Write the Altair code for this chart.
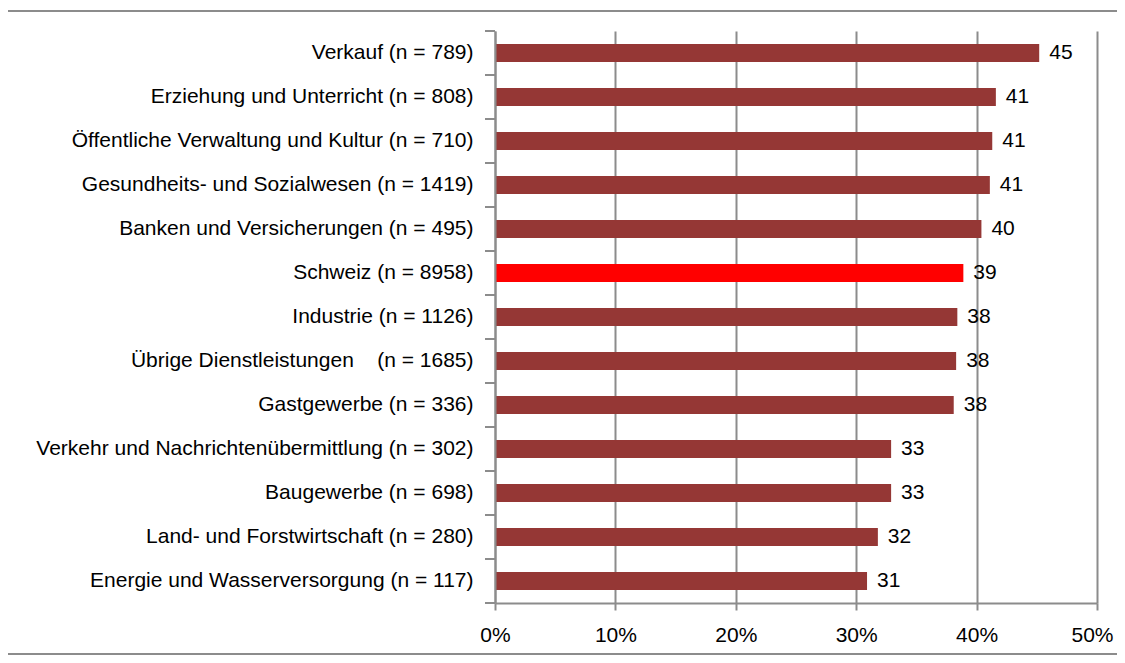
import altair as alt
import pandas as pd

categories = [
    "Verkauf (n = 789)",
    "Erziehung und Unterricht (n = 808)",
    "Öffentliche Verwaltung und Kultur (n = 710)",
    "Gesundheits- und Sozialwesen (n = 1419)",
    "Banken und Versicherungen (n = 495)",
    "Schweiz (n = 8958)",
    "Industrie (n = 1126)",
    "Übrige Dienstleistungen\u00a0\u00a0\u00a0 (n = 1685)",
    "Gastgewerbe (n = 336)",
    "Verkehr und Nachrichtenübermittlung (n = 302)",
    "Baugewerbe (n = 698)",
    "Land- und Forstwirtschaft (n = 280)",
    "Energie und Wasserversorgung (n = 117)",
]
values = [45.2, 41.6, 41.3, 41.1, 40.4, 38.9, 38.4, 38.3, 38.1, 32.9, 32.9, 31.8, 30.9]
value_labels = ["45", "41", "41", "41", "40", "39", "38", "38", "38", "33", "33", "32", "31"]
bar_colors = ["#953735"] * 5 + ["#FF0000"] + ["#953735"] * 7
x_ticks = [0, 10, 20, 30, 40, 50]

df = pd.DataFrame({"cat": categories, "val": values, "lab": value_labels, "color": bar_colors})

FONT = "Liberation Sans"
GRAY = "#8c8c8c"
W, H = 602, 572
FS = 21

y_scale = alt.Scale(paddingInner=0, paddingOuter=0)

y_enc = alt.Y(
    "cat:N", sort=categories, scale=y_scale,
    axis=alt.Axis(title=None, ticks=False, domain=True, domainColor=GRAY, domainWidth=2,
                  labelFont=FONT, labelFontSize=FS, labelColor="#000000",
                  labelPadding=22, labelLimit=0, zindex=1),
)
x_enc = alt.X(
    "val:Q", scale=alt.Scale(domain=[0, 50]),
    axis=alt.Axis(title=None, values=x_ticks,
                  labelExpr="datum.value + '%'",
                  labelOffset={"condition": {"test": "datum.value == 50", "value": -5}, "value": 0},
                  grid=True, gridColor=GRAY, gridWidth=2, labelFlush=False,
                  domainColor=GRAY, domainWidth=2, tickColor=GRAY, tickWidth=2, tickSize=7,
                  labelFont=FONT, labelFontSize=FS, labelColor="#000000", labelPadding=14),
)

bars = alt.Chart(df).mark_bar(size=18).encode(
    x=x_enc, y=y_enc, color=alt.Color("color:N", scale=None)
)
text = alt.Chart(df).mark_text(align="left", dx=10, font=FONT, fontSize=FS, color="#000000").encode(
    x="val:Q", y=alt.Y("cat:N", sort=categories), text="lab:N"
)
ticks0 = alt.Chart(df).mark_rule(color=GRAY, strokeWidth=2).encode(
    y=alt.Y("cat:N", sort=categories, bandPosition=0), x=alt.value(-10), x2=alt.value(0)
)
ticks1 = alt.Chart(df).mark_rule(color=GRAY, strokeWidth=2).encode(
    y=alt.Y("cat:N", sort=categories, bandPosition=1), x=alt.value(-10), x2=alt.value(0)
)
frame = alt.Chart(pd.DataFrame({"a": [0]})).mark_rect(
    fillOpacity=0, stroke=GRAY, strokeWidth=2
).encode(
    x=alt.value(-488), x2=alt.value(700), y=alt.value(-20), y2=alt.value(623)
)

chart = alt.layer(frame, bars, ticks0, ticks1, text).properties(
    width=W, height=H,
    padding={"left": 487, "top": 23, "right": 20, "bottom": 52},
    autosize=alt.AutoSizeParams(type="none"),
).configure_view(stroke=None)

chart.save("out.html", embed_options={"renderer": "svg", "actions": False})
